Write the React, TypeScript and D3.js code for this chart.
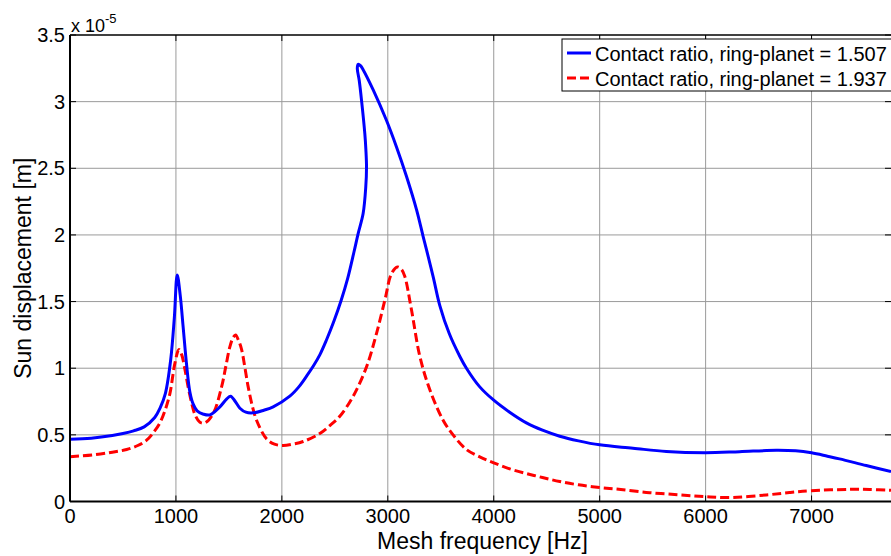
import { useRef, useEffect } from 'react'
import * as d3 from 'd3'

// sun displacement [x1e-5 m] vs mesh frequency [Hz]
const blueF = [0, 200, 400, 500, 600, 700, 800, 850, 900, 950, 985, 1012, 1040, 1068, 1100, 1132, 1163, 1200, 1260, 1321, 1415, 1480, 1516, 1560, 1604, 1660, 1730, 1830, 1918, 2075, 2160, 2233, 2300, 2358, 2420, 2490, 2560, 2620, 2680, 2720, 2767, 2792, 2799, 2793, 2783, 2752, 2730, 2712, 2720, 2742, 2767, 2861, 2987, 3082, 3176, 3271, 3333, 3365, 3430, 3491, 3580, 3679, 3742, 3868, 4000, 4150, 4308, 4460, 4623, 4800, 5000, 5314, 5629, 6000, 6321, 6667, 6850, 7000, 7150, 7264, 7516, 7750]
const blueV = [0.467, 0.475, 0.495, 0.51, 0.53, 0.56, 0.63, 0.7, 0.81, 1.06, 1.38, 1.7, 1.55, 1.31, 1.03, 0.82, 0.73, 0.68, 0.655, 0.65, 0.71, 0.77, 0.79, 0.75, 0.7, 0.67, 0.665, 0.685, 0.71, 0.79, 0.86, 0.94, 1.02, 1.1, 1.21, 1.35, 1.51, 1.67, 1.87, 2.01, 2.16, 2.36, 2.51, 2.64, 2.76, 3.01, 3.16, 3.25, 3.28, 3.27, 3.24, 3.09, 2.86, 2.66, 2.44, 2.19, 1.99, 1.89, 1.68, 1.47, 1.26, 1.09, 1.0, 0.86, 0.76, 0.67, 0.59, 0.535, 0.49, 0.455, 0.425, 0.4, 0.375, 0.366, 0.374, 0.384, 0.38, 0.365, 0.34, 0.32, 0.27, 0.225]

const redF = [0, 220, 400, 535, 640, 723, 790, 849, 900, 943, 991, 1028, 1055, 1085, 1115, 1148, 1180, 1226, 1274, 1352, 1431, 1470, 1509, 1540, 1563, 1590, 1620, 1650, 1682, 1720, 1761, 1855, 1930, 2013, 2100, 2201, 2358, 2453, 2547, 2673, 2799, 2893, 2972, 3035, 3091, 3130, 3160, 3223, 3302, 3396, 3522, 3616, 3742, 3868, 4000, 4150, 4308, 4460, 4623, 4800, 5000, 5200, 5472, 5750, 5997, 6258, 6572, 6800, 6997, 7358, 7550, 7750]
const redV = [0.336, 0.35, 0.37, 0.39, 0.42, 0.46, 0.52, 0.59, 0.69, 0.81, 1.04, 1.14, 1.1, 0.99, 0.86, 0.74, 0.65, 0.595, 0.59, 0.66, 0.86, 1.01, 1.16, 1.23, 1.25, 1.21, 1.14, 1.01, 0.86, 0.72, 0.61, 0.47, 0.43, 0.42, 0.43, 0.45, 0.51, 0.57, 0.64, 0.79, 1.01, 1.26, 1.51, 1.71, 1.76, 1.74, 1.69, 1.44, 1.09, 0.84, 0.61, 0.5, 0.39, 0.335, 0.29, 0.245, 0.21, 0.18, 0.15, 0.125, 0.105, 0.09, 0.066, 0.05, 0.036, 0.03, 0.049, 0.068, 0.081, 0.091, 0.09, 0.084]

const xTicks = [0, 1000, 2000, 3000, 4000, 5000, 6000, 7000]
const yTicks = [0, 0.5, 1, 1.5, 2, 2.5, 3, 3.5]
const legendLabels = ['Contact ratio, ring-planet = 1.507', 'Contact ratio, ring-planet = 1.937']

document.body.style.margin = '0'

export default function App() {
  const svgRef = useRef<SVGSVGElement>(null)

  useEffect(() => {
    if (!svgRef.current) return
    const W = 891, H = 556
    const pad = { l: 70, r: 0, t: 35, b: 55 }
    const font = 'Liberation Sans, Arial, sans-serif'

    const svg = d3.select(svgRef.current)
    svg.selectAll('*').remove()
    svg.attr('width', W).attr('height', H).attr('viewBox', `0 0 ${W} ${H}`)

    const x = d3.scaleLinear().domain([0, 7750]).range([pad.l, W - pad.r])
    const y = d3.scaleLinear().domain([0, 3.5]).range([H - pad.b + 0.5, pad.t])

    svg.append('rect').attr('width', W).attr('height', H).attr('fill', '#fff')

    // grid
    xTicks.slice(1).forEach(t => {
      svg.append('line').attr('x1', x(t)).attr('x2', x(t)).attr('y1', y(0)).attr('y2', y(3.5))
        .attr('stroke', '#9a9a9a').attr('stroke-width', 1)
    })
    yTicks.slice(1, -1).forEach(t => {
      svg.append('line').attr('x1', x(0)).attr('x2', W).attr('y1', y(t)).attr('y2', y(t))
        .attr('stroke', '#9a9a9a').attr('stroke-width', 1)
    })

    svg.append('clipPath').attr('id', 'plotclip').append('rect')
      .attr('x', x(0)).attr('y', y(3.5)).attr('width', W - x(0)).attr('height', y(0) - y(3.5))

    const line = d3.line<[number, number]>()
      .x(d => x(d[0])).y(d => y(d[1]))
      .curve(d3.curveCatmullRom.alpha(0.5))

    const g = svg.append('g').attr('clip-path', 'url(#plotclip)')
    g.append('path').datum(redF.map((f, i) => [f, redV[i]] as [number, number]))
      .attr('d', line).attr('fill', 'none').attr('stroke', '#ff0000').attr('stroke-width', 3)
      .attr('stroke-dasharray', '9,4')
    g.append('path').datum(blueF.map((f, i) => [f, blueV[i]] as [number, number]))
      .attr('d', line).attr('fill', 'none').attr('stroke', '#0000ff').attr('stroke-width', 3)
      .attr('stroke-linejoin', 'round')

    // box + inward ticks
    svg.append('line').attr('x1', x(0)).attr('x2', W).attr('y1', y(3.5)).attr('y2', y(3.5))
      .attr('stroke', '#000').attr('stroke-width', 1.3)
    svg.append('line').attr('x1', x(0)).attr('x2', W).attr('y1', y(0)).attr('y2', y(0))
      .attr('stroke', '#000').attr('stroke-width', 2)
    svg.append('line').attr('x1', x(0)).attr('x2', x(0)).attr('y1', y(0)).attr('y2', y(3.5))
      .attr('stroke', '#000').attr('stroke-width', 2)
    xTicks.forEach(t => {
      svg.append('line').attr('x1', x(t)).attr('x2', x(t)).attr('y1', y(0)).attr('y2', y(0) - 6)
        .attr('stroke', '#000').attr('stroke-width', 1)
      svg.append('line').attr('x1', x(t)).attr('x2', x(t)).attr('y1', y(3.5)).attr('y2', y(3.5) + 6)
        .attr('stroke', '#000').attr('stroke-width', 1)
      svg.append('text').attr('x', x(t)).attr('y', y(0) + 21)
        .attr('text-anchor', 'middle').attr('font-size', 20).attr('font-family', font).attr('fill', '#000')
        .text(t)
    })
    yTicks.forEach(t => {
      svg.append('line').attr('x1', x(0)).attr('x2', x(0) + 6).attr('y1', y(t)).attr('y2', y(t))
        .attr('stroke', '#000').attr('stroke-width', 1)
      svg.append('line').attr('x1', W - 6).attr('x2', W).attr('y1', y(t)).attr('y2', y(t))
        .attr('stroke', '#000').attr('stroke-width', 1)
      svg.append('text').attr('x', x(0) - 5).attr('y', y(t) + 7)
        .attr('text-anchor', 'end').attr('font-size', 20).attr('font-family', font).attr('fill', '#000')
        .text(String(t))
    })

    // exponent
    const ex = svg.append('text').attr('x', 71).attr('y', 32).attr('font-size', 18)
      .attr('font-family', font).attr('fill', '#000')
    ex.append('tspan').text('x 10')
    ex.append('tspan').attr('font-size', 13).attr('dy', -9).text('-5')

    // axis labels
    svg.append('text').attr('x', (x(0) + W) / 2 + 2).attr('y', 549)
      .attr('text-anchor', 'middle').attr('font-size', 23).attr('font-family', font).attr('fill', '#000')
      .text('Mesh frequency [Hz]')
    svg.append('text').attr('transform', `translate(31,${(y(0) + y(3.5)) / 2}) rotate(-90)`)
      .attr('text-anchor', 'middle').attr('font-size', 23).attr('font-family', font).attr('fill', '#000')
      .text('Sun displacement [m]')

    // legend
    const lg = svg.append('g')
    lg.append('rect').attr('x', 562).attr('y', 39).attr('width', 340).attr('height', 52)
      .attr('fill', '#fff').attr('stroke', '#000').attr('stroke-width', 1)
    const colors = ['#0000ff', '#ff0000']
    legendLabels.forEach((lab, i) => {
      const ly = 53 + i * 25
      lg.append('line').attr('x1', 567).attr('x2', 591).attr('y1', ly).attr('y2', ly)
        .attr('stroke', colors[i]).attr('stroke-width', 3)
        .attr('stroke-dasharray', i === 1 ? '9,4' : null)
      lg.append('text').attr('x', 595).attr('y', ly + 7.5).attr('font-size', 20)
        .attr('font-family', font).attr('fill', '#000').text(lab)
    })
  }, [])

  return <svg ref={svgRef} style={{ display: 'block' }} />
}
